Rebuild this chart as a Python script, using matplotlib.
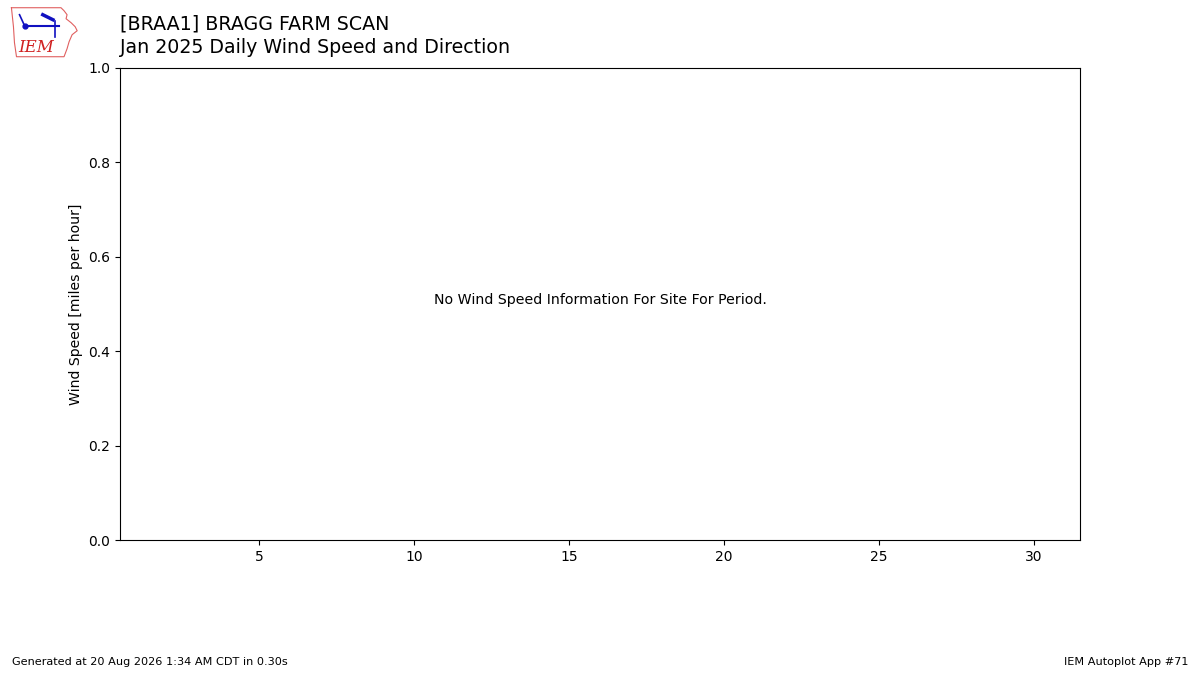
import matplotlib
matplotlib.use('Agg')
import matplotlib.pyplot as plt

# 数据：本期无风速记录
station = "[BRAA1] BRAGG FARM SCAN"
subtitle = "Jan 2025 Daily Wind Speed and Direction"
days = []
speeds = []
xticks = [5, 10, 15, 20, 25, 30]
message = "No Wind Speed Information For Site For Period."
footer_left = "Generated at 20 Aug 2026 1:34 AM CDT in 0.30s"
footer_right = "IEM Autoplot App #71"

fig = plt.figure(figsize=(12, 6.75), dpi=100)
ax = fig.add_axes([0.1, 0.2, 0.8, 0.6993])
ax.plot(days, speeds)
ax.set_xlim(0.5, 31.5)
ax.set_ylim(0, 1)
ax.set_xticks(xticks)
ax.set_ylabel("Wind Speed [miles per hour]", fontsize=10.1)
ax.text(16, 0.5, message, ha='center', fontsize=10.2)

fig.text(0.1, 0.965, station, fontsize=13.7, va='center')
fig.text(0.1, 0.93, subtitle, fontsize=13.7, va='center')
fig.text(0.01, 0.015, footer_left, fontsize=8.15)
fig.text(0.99, 0.015, footer_right, fontsize=8.15, ha='right')

# 简易 IEM 标志
logo = fig.add_axes([0.007, 0.913, 0.059, 0.08])
logo.set_xlim(0, 70)
logo.set_ylim(0, 54)
logo.axis('off')
ox = [3, 52, 55, 58, 57, 62, 66, 68, 63, 60, 58, 55, 8, 6, 5, 3]
oy = [51, 51, 48, 44, 40, 36, 32, 28, 24, 17, 10, 2, 2, 16, 32, 51]
logo.plot(ox, oy, color='#e06060', lw=0.8)
logo.plot([16, 50], [33, 33], color='#1010c0', lw=1.5)
logo.plot([11, 16], [44, 33], color='#1010c0', lw=1.2)
logo.plot([16], [33], 'o', color='#1010c0', ms=3.5)
logo.plot([34, 44], [44, 39], color='#1010c0', lw=2.5)
logo.plot([46, 46], [38, 22], color='#1010c0', lw=1.2)
logo.text(10, 7, "IEM", color='#d02020', fontsize=12, style='italic', family='serif')

fig.savefig('out.png', dpi=100)
